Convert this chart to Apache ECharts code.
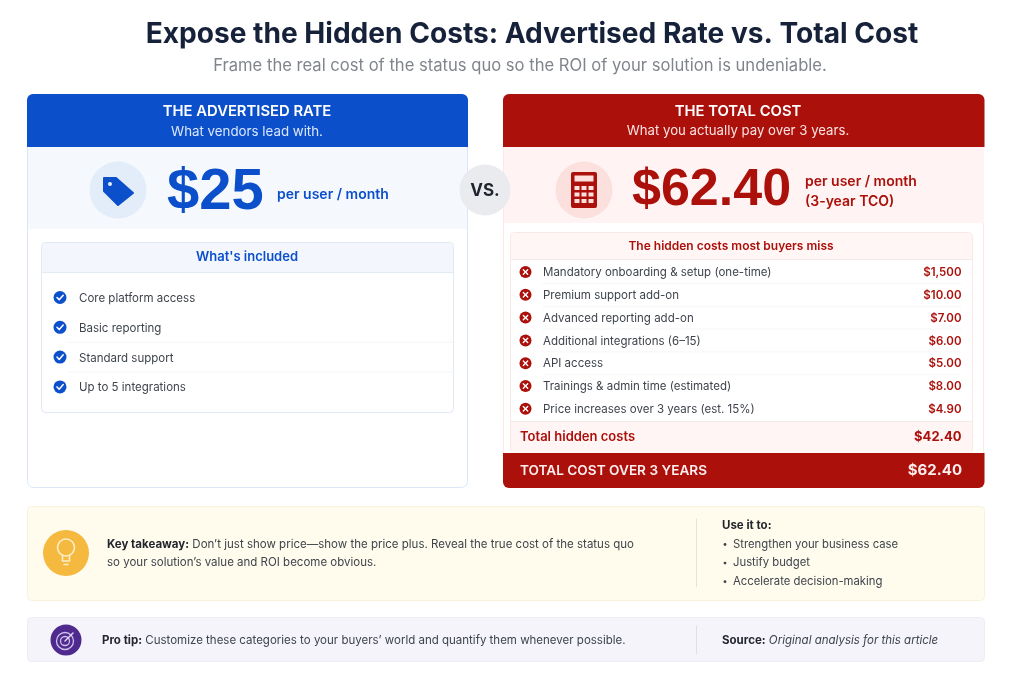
<!DOCTYPE html>
<html>
<head>
<meta charset="utf-8">
<title>Expose the Hidden Costs</title>
<script src="https://cdn.jsdelivr.net/npm/echarts@6/dist/echarts.min.js"></script>
<style>
html,body{margin:0;padding:0;background:#fff}
#main{width:1024px;height:683px}
</style>
</head>
<body>
<div id="main"></div>
<script>
var chartTitle = 'Expose the Hidden Costs: Advertised Rate vs. Total Cost';
var chartSubtitle = 'Frame the real cost of the status quo so the ROI of your solution is undeniable.';
var advertisedPrice = '$25';
var totalPrice = '$62.40';
var includedItems = ['Core platform access', 'Basic reporting', 'Standard support', 'Up to 5 integrations'];
var hiddenItems = ['Mandatory onboarding & setup (one-time)', 'Premium support add-on', 'Advanced reporting add-on',
    'Additional integrations (6–15)', 'API access', 'Trainings & admin time (estimated)', 'Price increases over 3 years (est. 15%)'];
var hiddenValues = ['$1,500', '$10.00', '$7.00', '$6.00', '$5.00', '$8.00', '$4.90'];
var hiddenTotal = '$42.40';
var grandTotal = '$62.40';
var useItems = ['Strengthen your business case', 'Justify budget', 'Accelerate decision-making'];

var FONT = 'Inter, "Noto Sans", sans-serif';
var PRICE_FONT = '"Liberation Sans", Arial, sans-serif';
var BLUE = '#0b4fcb', RED = '#ab100b', DARK = '#3f444c';
var els = [];

function rect(x, y, w, h, fill, stroke, r) {
    els.push({type: 'rect', shape: {x: x, y: y, width: w, height: h, r: r || 0},
        style: {fill: fill || 'transparent', stroke: stroke || 'transparent', lineWidth: stroke ? 1 : 0}});
}
function circle(x, y, r, fill, stroke, lw) {
    els.push({type: 'circle', shape: {cx: x, cy: y, r: r},
        style: {fill: fill || 'transparent', stroke: stroke || 'transparent', lineWidth: lw || 0}});
}
function line(x1, y1, x2, y2, color, lw) {
    els.push({type: 'line', shape: {x1: x1, y1: y1, x2: x2, y2: y2},
        style: {stroke: color, lineWidth: lw || 1, lineCap: 'round'}});
}
function poly(points, fill, stroke, lw) {
    els.push({type: fill ? 'polygon' : 'polyline', shape: {points: points},
        style: {fill: fill || 'transparent', stroke: stroke || 'transparent', lineWidth: lw || 0, lineCap: 'round', lineJoin: 'round'}});
}
function txt(x, y, text, size, color, weight, align, rich, font) {
    els.push({type: 'text', x: x, y: y, style: {text: text, fontFamily: font || FONT, fontSize: size, fill: color,
        fontWeight: weight || 400, align: align || 'left', verticalAlign: 'middle', rich: rich}});
}

// 标题
txt(532, 34.5, chartTitle, 28.1, '#16213a', 700, 'center');
txt(520, 65.5, chartSubtitle, 16.6, '#80858c', 400, 'center');

// 左侧卡片
rect(27.5, 94.5, 440, 393, '#ffffff', '#dbe7f7', 6);
rect(28, 147, 439, 82, '#f5f9fe');
rect(27, 94, 441, 53, BLUE, null, [6, 6, 0, 0]);
txt(247, 111.5, 'THE ADVERTISED RATE', 14.8, '#ffffff', 600, 'center');
txt(247, 131.5, 'What vendors lead with.', 13.3, '#dbe7fb', 400, 'center');
circle(118, 190, 28.5, '#e3ecf9');
poly([[104, 178], [116, 178], [133, 193], [118, 205], [104, 191]], BLUE, BLUE, 2);
circle(110, 184, 2, '#e3ecf9');
txt(167, 193, advertisedPrice, 58, BLUE, 700, 'left', undefined, PRICE_FONT);
txt(277, 194.5, 'per user / month', 14, BLUE, 600);

rect(41.5, 242.5, 412, 170, '#ffffff', '#dfe8f3', 4);
rect(42, 243, 411, 29, '#f3f7fd', null, [4, 4, 0, 0]);
line(42, 272.5, 453, 272.5, '#e2eaf4');
txt(247, 257.5, "What's included", 13, BLUE, 600, 'center');
for (var i = 0; i < includedItems.length; i++) {
    var iy = 297.5 + i * 29.8;
    circle(60, iy, 6.5, BLUE);
    poly([[57, iy], [59.2, iy + 2.3], [63.2, iy - 2.3]], null, '#ffffff', 1.5);
    txt(79, iy + 1, includedItems[i], 11.5, DARK);
    if (i == 1 || i == 2) line(68, iy + 15, 453, iy + 15, '#f3f5f8');
}

// 右侧卡片
rect(503.5, 94.5, 480, 393, '#ffffff', '#fbe9e7', 6);
rect(504, 147, 480, 76, '#fff4f3');
rect(503, 94, 481.5, 53, RED, null, [6, 6, 0, 0]);
txt(738, 111.5, 'THE TOTAL COST', 14.8, '#ffffff', 600, 'center');
txt(738, 131.5, 'What you actually pay over 3 years.', 13.2, '#fbe3e1', 400, 'center');
circle(584, 190, 28.5, '#fbe0de');
rect(571, 172, 26, 36, RED, null, 2);
rect(574.5, 175.5, 19, 6, '#fbe0de');
for (var r = 0; r < 3; r++) {
    for (var c = 0; c < 3; c++) {
        rect(574.5 + c * 7, 186 + r * 6.5, 5, 4, '#fbe0de');
    }
}
txt(632, 191, totalPrice, 52, RED, 700, 'left', undefined, PRICE_FONT);
txt(805, 181.5, 'per user / month', 14, RED, 600);
txt(805, 201.5, '(3-year TCO)', 14, RED, 600);

// 隐藏费用表
rect(510.5, 232.5, 462, 221, '#ffffff', '#f8e8e6', 4);
rect(511, 233, 461, 26, '#fff6f5', null, [4, 4, 0, 0]);
line(511, 259.5, 972, 259.5, '#f8e8e6');
txt(731, 246.5, 'The hidden costs most buyers miss', 12, RED, 600, 'center');
for (var j = 0; j < hiddenItems.length; j++) {
    var jy = 272 + j * 22.8;
    circle(525.5, jy, 6, RED);
    line(523.3, jy - 2.2, 527.7, jy + 2.2, '#ffffff', 1.4);
    line(527.7, jy - 2.2, 523.3, jy + 2.2, '#ffffff', 1.4);
    txt(543, jy + 0.8, hiddenItems[j], 11.5, DARK);
    txt(961.5, jy + 0.8, hiddenValues[j], 11.5, RED, 600, 'right');
    if (j < hiddenItems.length - 2) line(543, jy + 11.5, 961, jy + 11.5, '#f6f6f6');
}
rect(511, 421, 461, 32, '#fff5f4');
line(511, 421.5, 972, 421.5, '#f6e8e6');
txt(520, 437.5, 'Total hidden costs', 13, RED, 600);
txt(961.5, 437.5, hiddenTotal, 13, RED, 700, 'right');
rect(503, 453, 481.5, 35, RED, null, [0, 0, 6, 6]);
txt(520, 470.5, 'TOTAL COST OVER 3 YEARS', 13.6, '#fdeeee', 600);
txt(962, 470.5, grandTotal, 15, '#fdeeee', 700, 'right');

// VS 圆
circle(485, 190, 25.5, '#e9ebee');
txt(485, 190.5, 'VS.', 17, '#20242c', 700, 'center');

// 要点
rect(27.5, 506.5, 957, 94, '#fffcee', '#f8f2dd', 4);
circle(66, 553, 23, '#f4b93e');
circle(66, 547.5, 8.5, null, '#fdeec8', 1.6);
poly([[62.5, 555], [62.5, 561], [69.5, 561], [69.5, 555]], null, '#fdeec8', 1.6);
line(64, 564.5, 68, 564.5, '#fdeec8', 1.6);
var boldStyle = {fontFamily: FONT, fontSize: 11.5, fontWeight: 700, fill: '#23262c'};
var plainStyle = {fontFamily: FONT, fontSize: 11.5, fill: DARK};
var italicStyle = {fontFamily: FONT, fontSize: 11.5, fontStyle: 'italic', fill: DARK};
txt(107, 544.5, '{b|Key takeaway:} {n|Don’t just show price—show the price plus. Reveal the true cost of the status quo}', 11.5, DARK, 400, 'left', {b: boldStyle, n: plainStyle});
txt(107, 562.5, 'so your solution’s value and ROI become obvious.', 11.5, DARK);
line(696.5, 519, 696.5, 587, '#e8e4d4');
txt(722, 525.5, 'Use it to:', 11.5, '#23262c', 700);
for (var k = 0; k < useItems.length; k++) {
    var ky = 544.5 + k * 18.6;
    circle(725, ky, 1.4, DARK);
    txt(733, ky, useItems[k], 11.3, DARK);
}

// 提示
rect(27.5, 617.5, 957, 44, '#f4f4fa', '#ededf4', 4);
circle(66, 640, 15.5, '#4f2a8e');
circle(65, 641, 8.5, null, '#cfc0ea', 1.3);
circle(65, 641, 4.5, null, '#cfc0ea', 1.3);
line(65, 641, 73, 633, '#e6ddf5', 1.4);
txt(102, 640.5, '{b|Pro tip:} {n|Customize these categories to your buyers’ world and quantify them whenever possible.}', 11.5, DARK, 400, 'left', {b: boldStyle, n: plainStyle});
line(696.5, 626, 696.5, 654, '#dfdfe6');
txt(722, 640.5, '{b|Source:} {i|Original analysis for this article}', 11.5, DARK, 400, 'left', {b: boldStyle, i: italicStyle});

var myChart = echarts.init(document.getElementById('main'));
myChart.setOption({
    animation: false,
    backgroundColor: '#ffffff',
    graphic: {elements: els}
});
</script>
</body>
</html>
